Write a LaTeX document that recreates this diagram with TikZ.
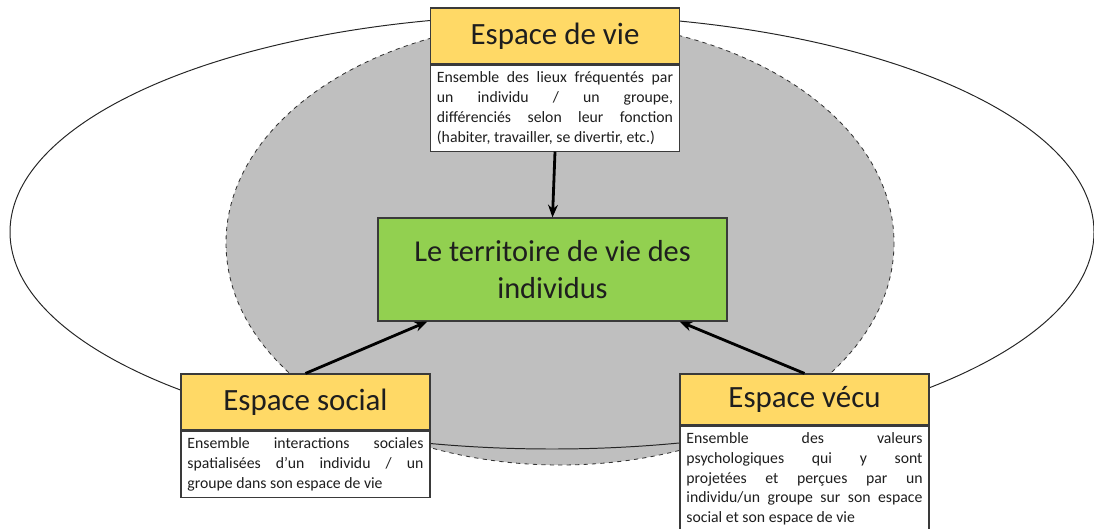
\documentclass[tikz,border=0pt]{standalone}
\usepackage{fontspec}
\setmainfont{Carlito}
\usetikzlibrary{arrows.meta}
\definecolor{hdr}{HTML}{FFD966}
\definecolor{grn}{HTML}{92D050}
\definecolor{gry}{HTML}{BFBFBF}
\definecolor{edge}{HTML}{3A3A3A}
\definecolor{txt}{HTML}{1E1E1E}
\newcommand\bodyfont{\fontsize{11.2}{14}\selectfont\hyphenpenalty=10000\relax\exhyphenpenalty=10000\relax}
\tikzset{
  headbox/.style={draw=edge, line width=0.8pt, fill=hdr, text=txt, minimum width=6.225cm, inner sep=0pt, font=\fontsize{22}{26}\selectfont},
  bodybox/.style={draw=edge, line width=0.8pt, fill=white, text=txt, minimum width=6.225cm, text width=5.9cm, inner xsep=0.16cm, inner ysep=0.17cm, align=justify, anchor=north, font=\bodyfont},
  centerbox/.style={draw=edge, line width=0.8pt, fill=grn, text=txt, minimum width=8.725cm, minimum height=2.575cm, align=center, font=\fontsize{21.6}{25.8}\selectfont},
  conn/.style={-{Stealth[length=9pt,width=7pt]}, line width=2pt}
}
\begin{document}
\begin{tikzpicture}[x=0.025cm,y=-0.025cm]
\useasboundingbox (0,0) rectangle (1094,528);
% ellipses
\fill[gry] (560,243) ellipse [x radius=334, y radius=222];
\draw[dashed, line width=0.6pt, black!80] (560,243) ellipse [x radius=334, y radius=222];
\draw[line width=0.7pt, black!85] (552,232) ellipse [x radius=542, y radius=217];
% top
\node[headbox, minimum height=1.4cm] (h1) at (555,36) {Espace de vie};
\node[bodybox, minimum height=2.15cm] (b1) at (h1.south) {Ensemble des lieux fréquentés par\linebreak un individu / un groupe,\linebreak différenciés selon leur fonction\linebreak (habiter, travailler, se divertir, etc.)};
% center
\node[centerbox] (c) at (552.5,269.5) {Le territoire de vie des\\individus};
% social
\node[headbox, minimum height=1.4cm] (h2) at (305.5,402) {Espace social};
\node[bodybox, minimum height=1.625cm] (b2) at (h2.south) {Ensemble interactions sociales\linebreak spatialisées d’un individu / un\linebreak groupe dans son espace de vie};
% vecu
\node[headbox, minimum height=1.275cm] (h3) at (804.5,399.5) {Espace vécu};
\node[bodybox, minimum height=2.6cm] (b3) at (h3.south) {Ensemble des valeurs\linebreak psychologiques qui y sont\linebreak projetées et perçues par un\linebreak individu/un groupe sur son espace\linebreak social et son espace de vie};
% arrows
\draw[conn] (b1.south) -- (c.north);
\draw[conn] (h2.north) -- ([xshift=1.25cm]c.south west);
\draw[conn] (h3.north) -- ([xshift=-1.2cm]c.south east);
\end{tikzpicture}
\end{document}
